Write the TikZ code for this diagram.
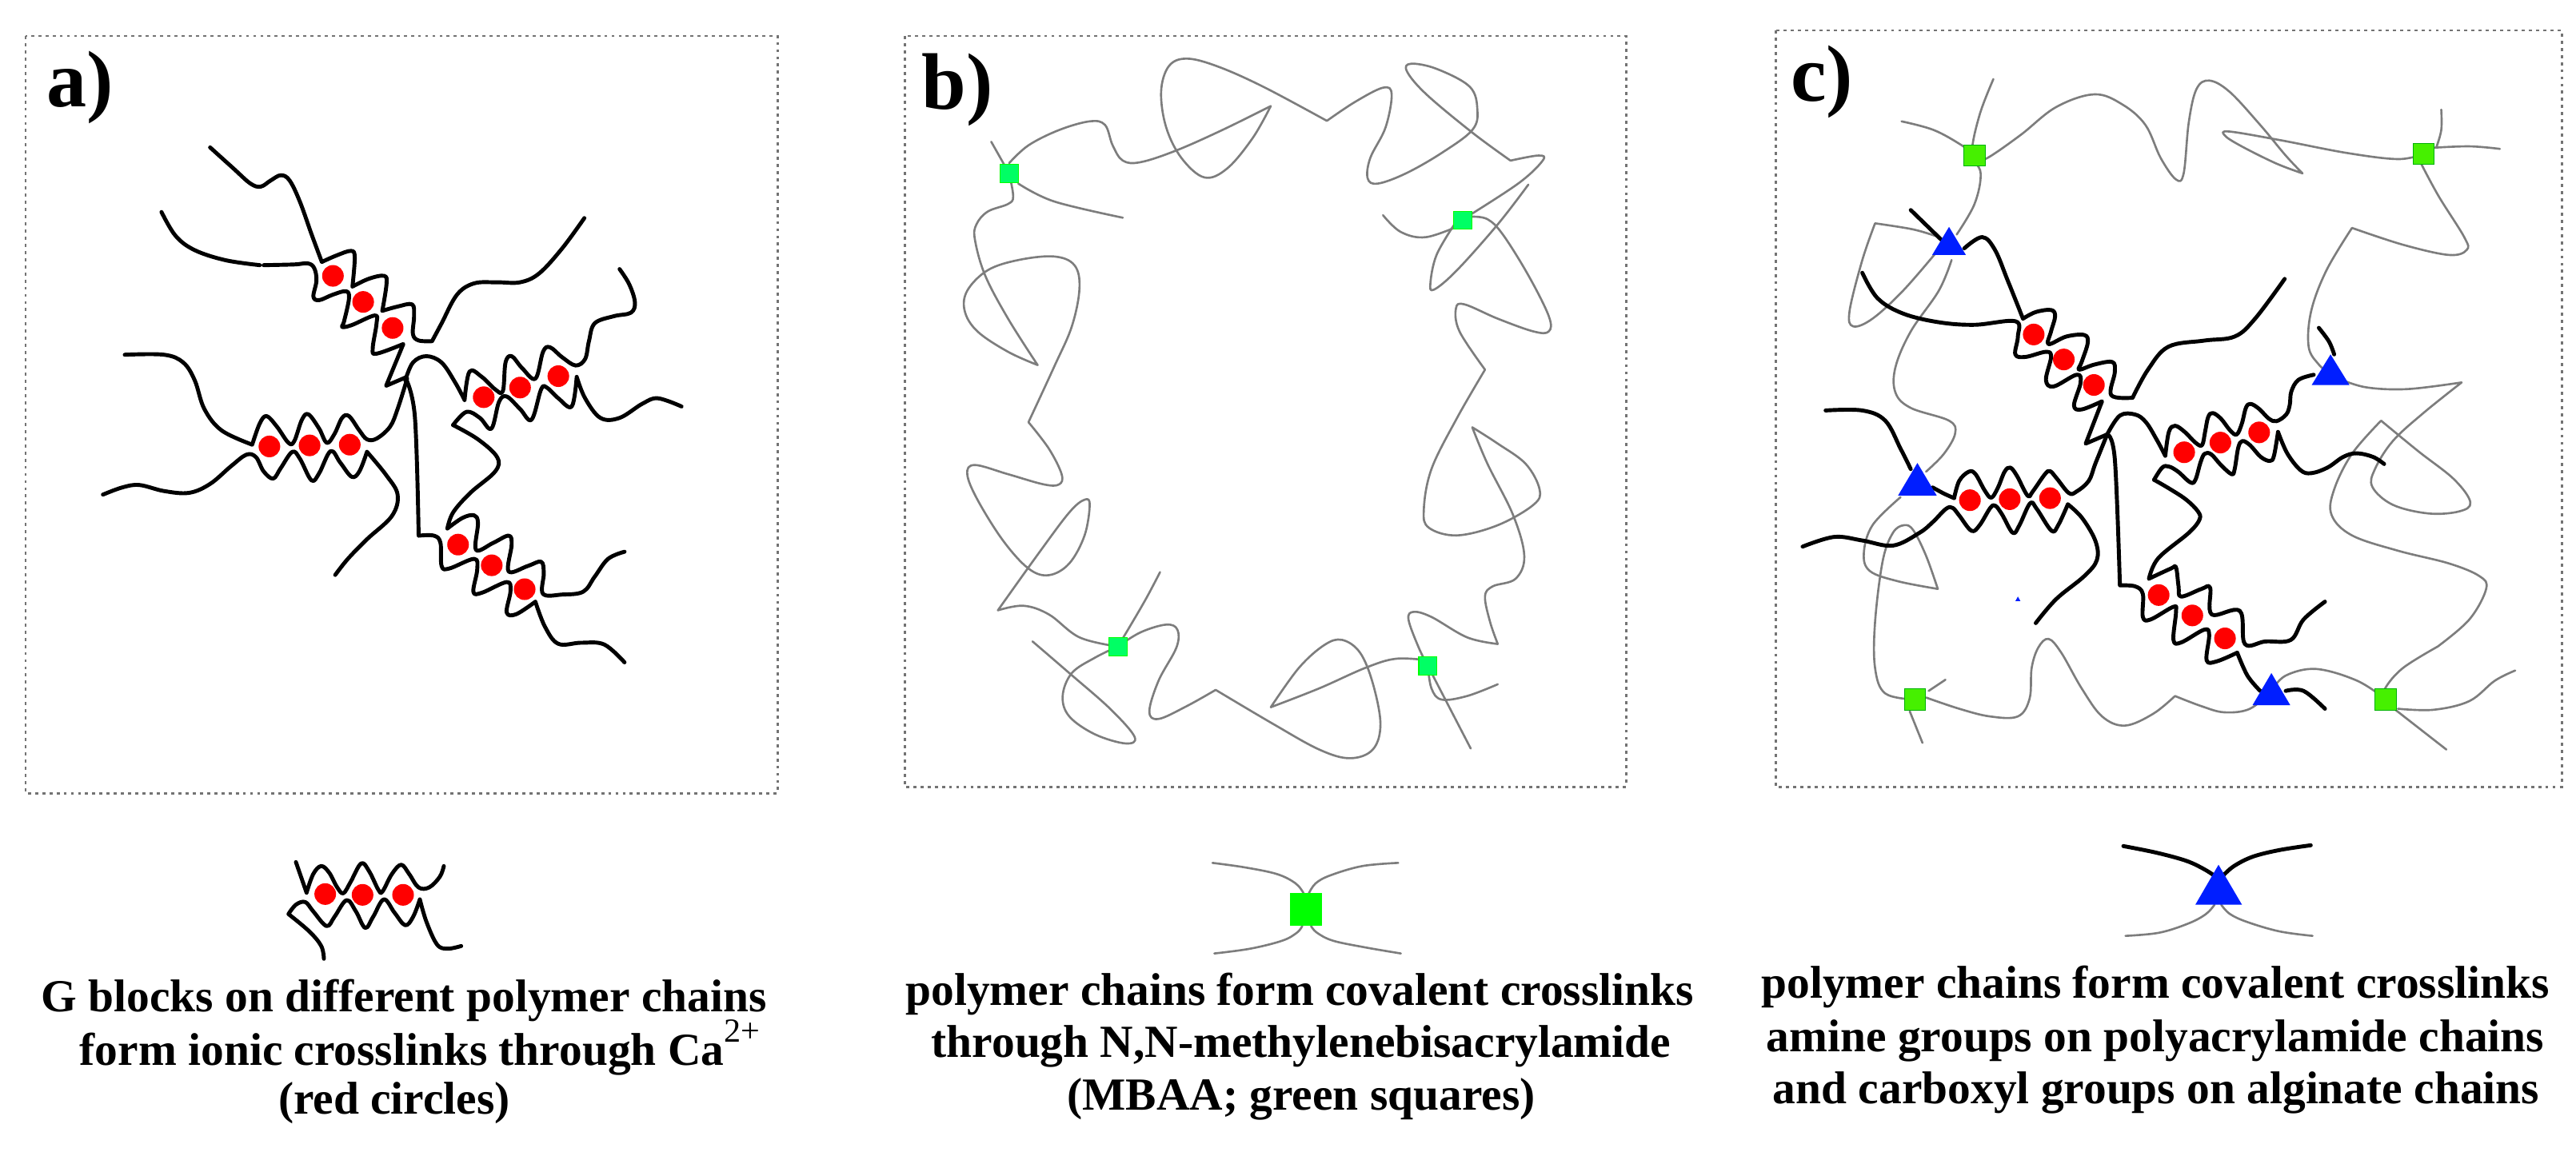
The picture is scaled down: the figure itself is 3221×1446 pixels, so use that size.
\documentclass[tikz,border=0pt]{standalone}
\usepackage{fontspec}
\setmainfont{Liberation Serif}
\definecolor{chaingray}{RGB}{125,125,125}
\definecolor{boxgray}{RGB}{115,115,115}
\definecolor{bsquare}{RGB}{0,255,100}
\definecolor{csquare}{RGB}{70,240,0}
\definecolor{sitered}{RGB}{255,0,0}
\definecolor{siteblue}{RGB}{0,30,255}
\tikzset{
  panelbox/.style={draw=boxgray, line width=1.7pt, dash pattern=on 2.2pt off 2.9pt},
  blackchain/.style={black, line width=2.8pt, line cap=round, line join=round},
  graychain/.style={chaingray, line width=1.5pt, line cap=round, line join=round},
  redsite/.style={circle, fill=sitered, inner sep=0pt, minimum size=15.4pt},
  bsite/.style={rectangle, fill=bsquare, draw=green, line width=.6pt, inner sep=0pt, minimum size=13pt},
  csite/.style={rectangle, fill=csquare, draw=green!70!black, line width=.6pt, inner sep=0pt, minimum size=15pt},
  bluesite/.style={fill=siteblue},
  paneltag/.style={font=\bfseries\fontsize{57}{60}\selectfont, anchor=base west, inner sep=0pt},
  captionline/.style={font=\bfseries\fontsize{32.7}{38}\selectfont, anchor=base, inner sep=0pt},
}
\newcommand{\sm}[1]{plot[smooth, tension=.6] coordinates {#1}}
\begin{document}
\begin{tikzpicture}[x=0.02cm, y=-0.02cm]
  \useasboundingbox (0,0) rectangle (3221,1446);

  % panel frames
  \draw[panelbox] (32,45) rectangle (972,992);
  \draw[panelbox] (1131,45) rectangle (2033,984);
  \draw[panelbox] (2220,38) rectangle (3203,984);
  \node[paneltag] (taga) at (58,134) {a)};
  \node[paneltag] (tagb) at (1152,137) {b)};
  \node[paneltag] (tagc) at (2239,127) {c)};

  % panel a
  \begin{scope}[shift={(100,150)}, xscale=0.4785, yscale=0.4464]
    \draw[blackchain] \sm{(340,77) (400,135) (445,178) (472,187) (498,170) (525,155) (548,170) (575,230) (605,320) (632,398)}
      \sm{(632,398) (670,380) (708,367) (718,385) (712,467)}
      \sm{(712,467) (755,445) (795,437) (801,460) (790,535)}
      \sm{(790,535) (830,523) (868,517) (873,550) (870,600) (885,618) (920,620)}
      \sm{(920,620) (945,570) (985,490) (1030,458) (1090,455) (1150,455) (1200,430) (1260,360) (1318,275)};
    \draw[blackchain] \sm{(213,258) (250,325) (300,365) (380,393) (470,407)}
      \sm{(480,407) (560,405) (595,402) (612,415) (618,450) (610,495) (625,505) (660,490) (695,480) (703,500) (690,565) (685,580) (710,575) (770,548) (775,570) (765,640) (775,655) (845,628)}
      -- (800,745) -- (850,722);
    \draw[blackchain] \sm{(850,722) (875,830) (885,1165)}
      \sm{(885,1165) (925,1165) (942,1185) (945,1250) (965,1257) (1030,1230) (1038,1260) (1028,1322) (1050,1325) (1115,1295) (1125,1320) (1115,1380) (1140,1385) (1190,1350)}
      \sm{(1190,1350) (1215,1420) (1250,1468) (1310,1465) (1370,1470) (1423,1520)};
    \draw[blackchain] \sm{(850,730) (870,680) (905,662) (945,680) (980,735) (1005,785)}
      \sm{(1005,785) (1018,705) (1050,720) (1085,755) (1105,760) (1112,680) (1128,662) (1155,695) (1190,725) (1210,650) (1228,637) (1260,665) (1295,688) (1320,670) (1330,620) (1345,570) (1395,550) (1440,540) (1450,510) (1435,460) (1410,418)};
    \draw[blackchain] \sm{(975,855) (1010,818) (1045,835) (1075,865) (1095,790) (1115,775) (1150,810) (1180,840) (1205,755) (1220,750) (1250,780) (1285,803) (1298,720)}
      \sm{(1298,720) (1320,780) (1360,835) (1410,835) (1470,795) (1510,780) (1572,803)};
    \draw[blackchain] \sm{(975,855) (1040,895) (1090,945) (1085,985) (1020,1045) (975,1100) (960,1145)}
      \sm{(960,1145) (1000,1115) (1030,1108) (1040,1130) (1035,1205) (1080,1185) (1120,1165) (1128,1190) (1120,1265) (1170,1250) (1205,1238) (1212,1270) (1210,1328) (1260,1330) (1315,1322) (1345,1280) (1380,1230) (1423,1210)};
    \draw[blackchain] \sm{(117,658) (220,658) (270,680) (300,730) (325,810) (370,870) (450,910)}
      \sm{(450,910) (470,850) (488,830) (515,860) (545,905) (560,900) (580,840) (597,825) (625,865) (645,905) (665,880) (685,835) (703,830) (730,870) (750,895) (775,893) (810,860) (830,810) (855,725)};
    \draw[blackchain] \sm{(60,1050) (110,1030) (155,1023) (220,1040) (285,1045) (340,1020) (395,970) (435,938) (460,945) (480,985) (505,1005) (525,975) (555,930) (575,950) (605,1010) (625,990) (655,928) (680,960) (710,1000) (730,985) (750,930)}
      \sm{(750,930) (800,995) (830,1050) (815,1110) (750,1175) (700,1230) (667,1275)};
    \node[redsite] (a1) at (661,437) {};
    \node[redsite] (a2) at (740,510) {};
    \node[redsite] (a3) at (817,583) {};
    \node[redsite] (a4) at (495,915) {};
    \node[redsite] (a5) at (600,912) {};
    \node[redsite] (a6) at (705,910) {};
    \node[redsite] (a7) at (1055,777) {};
    \node[redsite] (a8) at (1150,750) {};
    \node[redsite] (a9) at (1250,718) {};
    \node[redsite] (a10) at (988,1190) {};
    \node[redsite] (a11) at (1076,1248) {};
    \node[redsite] (a12) at (1162,1315) {};
  \end{scope}

  % panel b
  \begin{scope}[shift={(1050,0)}, scale=0.6378]
    \draw[graychain] (297,278) -- (332,340);
    \draw[graychain] \sm{(332,340) (340,385) (330,400) (290,415) (268,440) (265,470) (285,540) (330,625) (388,716)}
      \sm{(388,716) (330,690) (270,650) (245,610) (250,570) (290,530) (350,510) (420,503) (460,520) (470,565) (455,640) (420,720) (370,828)}
      \sm{(370,828) (410,880) (435,930) (430,950) (400,950) (330,930) (265,912) (250,930) (270,980) (320,1060) (370,1115) (410,1128) (450,1105) (480,1050) (490,990) (480,980) (450,1005) (390,1085) (310,1197)}
      \sm{(310,1197) (360,1188) (410,1205) (470,1250) (545,1268)};
    \draw[graychain] \sm{(332,320) (370,285) (430,255) (490,238) (520,245) (535,285) (555,315) (590,318) (660,295) (750,255) (845,208)}
      \sm{(845,208) (810,270) (760,330) (715,348) (670,310) (640,250) (630,180) (645,130) (680,115) (740,130) (830,170) (955,237)}
      \sm{(955,237) (1010,200) (1065,172) (1082,185) (1070,250) (1040,310) (1035,350) (1055,360) (1110,340) (1180,300) (1240,255) (1250,215) (1235,170) (1170,135) (1120,125) (1112,140) (1150,185) (1240,260) (1315,315)}
      \sm{(1315,315) (1370,305) (1378,315) (1330,360) (1222,430)};
    \draw[graychain] \sm{(350,360) (420,395) (555,427)};
    \draw[graychain] \sm{(1065,422) (1100,455) (1150,465) (1221,440)};
    \draw[graychain] \sm{(1205,440) (1170,500) (1158,555) (1165,568) (1210,530) (1290,440) (1350,362)};
    \draw[graychain] \sm{(1240,425) (1270,430) (1300,460) (1350,540) (1390,620) (1390,650) (1360,650) (1290,625) (1225,597) (1208,605) (1215,650) (1265,725)}
      \sm{(1265,725) (1210,820) (1160,920) (1145,1000) (1155,1035) (1210,1050) (1290,1030) (1360,990) (1372,960) (1345,910) (1290,870) (1240,838)}
      \sm{(1240,838) (1270,910) (1320,1010) (1342,1090) (1325,1135) (1280,1150) (1265,1170) (1275,1220) (1290,1263)}
      \sm{(1290,1263) (1230,1250) (1160,1210) (1125,1200) (1115,1215) (1135,1270) (1153,1306)};
    \draw[graychain] \sm{(1153,1295) (1090,1292) (1030,1310) (940,1350) (845,1387)}
      \sm{(845,1387) (900,1310) (950,1265) (985,1255) (1020,1280) (1045,1340) (1060,1420) (1045,1470) (1000,1487) (940,1470) (850,1420) (737,1353)}
      \sm{(737,1353) (680,1385) (625,1410) (607,1395) (625,1335) (660,1270) (662,1235) (640,1225) (590,1240) (545,1268)};
    \draw[graychain] \sm{(545,1268) (565,1235) (600,1175) (628,1122)};
    \draw[graychain] \sm{(378,1258) (450,1320) (530,1390) (578,1445) (560,1458) (500,1440) (450,1405) (437,1365) (455,1320) (500,1290) (545,1268)};
    \draw[graychain] \sm{(1153,1306) (1160,1350) (1180,1372) (1230,1365) (1290,1342)};
    \draw[graychain] (1153,1306) -- (1237,1468);
    \node[bsite] (b1) at (332,340) {};
    \node[bsite] (b2) at (1221,432) {};
    \node[bsite] (b3) at (545,1268) {};
    \node[bsite] (b4) at (1153,1306) {};
  \end{scope}

  % panel c
  \begin{scope}[shift={(2150,0)}, scale=0.6378]
    \draw[graychain] \sm{(537,155) (510,225) (495,300) (512,340) (500,400) (465,460)};
    \draw[graychain] \sm{(455,510) (430,570) (375,650) (345,720) (345,770) (375,800) (450,825) (462,850) (440,890) (405,925)};
    \draw[graychain] \sm{(355,975) (300,1030) (283,1085) (295,1120) (350,1140) (428,1155)}
      \sm{(428,1155) (405,1090) (380,1040) (362,1030) (340,1045) (320,1100) (305,1220) (305,1310) (325,1360) (383,1372)};
    \draw[graychain] \sm{(357,238) (420,255) (475,285) (500,305)};
    \draw[graychain] \sm{(500,315) (525,310) (590,265) (660,210) (735,185) (790,205) (835,245) (865,310) (895,352) (910,340) (920,240) (935,175) (960,158) (1000,180) (1060,245) (1110,305) (1143,340)}
      \sm{(1143,340) (1090,320) (1020,285) (990,265) (1000,258) (1100,275) (1230,300) (1330,312) (1380,302)};
    \draw[graychain] \sm{(1415,215) (1415,255) (1405,290)};
    \draw[graychain] \sm{(1395,290) (1470,287) (1530,292)};
    \draw[graychain] \sm{(1375,320) (1410,385) (1460,465) (1465,490) (1430,500) (1340,480) (1240,447)}
      \sm{(1240,447) (1190,530) (1160,610) (1155,680) (1175,715) (1198,735)};
    \draw[graychain] \sm{(1220,745) (1270,760) (1350,763) (1455,750)}
      \sm{(1455,750) (1380,810) (1320,865) (1285,920) (1280,955) (1320,990) (1390,1007) (1450,1003) (1472,985) (1440,940) (1370,885) (1297,825)}
      \sm{(1297,825) (1240,890) (1205,960) (1200,1010) (1240,1050) (1330,1080) (1430,1105) (1490,1130) (1503,1155) (1470,1215) (1408,1268)}
      \sm{(1408,1268) (1340,1310) (1305,1350) (1305,1372)};
    \draw[graychain] \sm{(1307,1372) (1250,1335) (1170,1312) (1110,1325) (1082,1355)};
    \draw[graychain] \sm{(1330,1390) (1400,1392) (1470,1375) (1520,1335) (1560,1315)};
    \draw[graychain] (1325,1392) -- (1425,1470);
    \draw[graychain] \sm{(1082,1355) (1040,1390) (990,1397) (945,1385) (893,1365)}
      \sm{(893,1365) (850,1400) (795,1423) (750,1405) (710,1350) (670,1280) (645,1253) (625,1270) (612,1310) (608,1370) (585,1405) (530,1405) (470,1390) (405,1368)};
    \draw[graychain] (443,1333) -- (410,1355);
    \draw[graychain] (373,1395) -- (398,1457);
    \draw[graychain] \sm{(430,465) (380,450) (305,438)}
      \sm{(305,438) (280,510) (255,610) (262,640) (300,625) (360,570) (425,495)};

    \draw[blackchain] (375,412) -- (445,480);
    \draw[blackchain] \sm{(480,487) (515,465) (540,490) (565,550) (595,625)}
      \sm{(595,625) (620,612) (650,608) (658,620) (650,650) (645,675) (680,660) (715,657) (722,672) (710,710) (705,725) (735,715) (770,710) (775,730) (768,775) (810,780)}
      \sm{(810,780) (840,725) (880,680) (950,668) (1010,660) (1050,625) (1108,547)};
    \draw[blackchain] \sm{(280,535) (310,585) (360,615) (430,632) (500,637) (580,630) (585,660) (580,695) (600,700) (640,690) (650,700) (640,745) (655,758) (700,735) (708,750) (695,795) (710,803) (750,787)}
      -- (718,870) -- (760,852);
    \draw[blackchain] \sm{(760,852) (775,900) (785,1148)}
      \sm{(785,1148) (815,1150) (830,1165) (830,1210) (845,1215) (890,1190) (895,1200) (890,1255) (905,1260) (950,1235) (960,1245) (955,1295) (975,1297) (1015,1280)}
      \sm{(1015,1280) (1035,1325) (1060,1355)};
    \draw[blackchain] \sm{(760,852) (785,815) (815,813) (836,828) (857,862) (874,894)}
      \sm{(874,894) (881,847) (893,835) (912,847) (933,868) (946,873) (952,847) (958,818) (967,810) (983,821) (1001,844) (1014,852) (1024,831) (1032,800) (1041,792) (1058,802) (1077,821) (1092,826) (1111,813) (1118,794) (1121,768) (1135,745) (1165,735)};
    \draw[blackchain] \sm{(1175,643) (1195,670) (1205,695)};
    \draw[blackchain] \sm{(852,941) (868,917) (881,915) (899,925) (923,946) (933,941) (943,907) (951,890) (964,891) (983,912) (1004,930) (1010,920) (1017,878) (1025,865) (1040,873) (1061,896) (1079,904) (1087,894) (1095,847)}
      \sm{(1095,847) (1113,889) (1139,922) (1160,928) (1192,917) (1223,896) (1249,889) (1281,896) (1303,910)};
    \draw[blackchain] \sm{(852,941) (883,959) (915,980) (938,1003) (941,1019) (920,1045) (860,1095) (842,1135)}
      \sm{(842,1135) (885,1115) (895,1113) (900,1150) (905,1170) (945,1155) (962,1153) (965,1205) (1020,1198) (1030,1263) (1070,1258) (1120,1255) (1145,1215) (1187,1180)};
    \draw[blackchain] \sm{(1110,1355) (1145,1355) (1187,1390)};
    \draw[blackchain] \sm{(208,805) (280,805) (325,825) (355,880) (375,920)};
    \draw[blackchain] \sm{(418,956) (440,968) (460,977)}
      \sm{(460,977) (470,943) (489,925) (502,930) (520,962) (533,976) (546,956) (559,925) (570,917) (583,933) (604,972) (614,964) (638,930) (648,924) (661,938) (685,967) (700,964) (724,943) (737,909) (760,852)};
    \draw[blackchain] \sm{(163,1072) (225,1053) (280,1060) (340,1070) (392,1045) (418,1024) (444,998) (457,996) (470,1011) (494,1041) (510,1030) (531,996) (541,992) (554,1009) (575,1045) (588,1030) (609,987) (622,998) (651,1041) (664,1030) (683,989)}
      \sm{(683,989) (711,1016) (737,1061) (740,1098) (715,1130) (660,1175) (620,1222)};

    \node[redsite] (c1) at (616,656) {};
    \node[redsite] (c2) at (675,705) {};
    \node[redsite] (c3) at (734,755) {};
    \node[redsite] (c4) at (491,981) {};
    \node[redsite] (c5) at (569,979) {};
    \node[redsite] (c6) at (648,977) {};
    \node[redsite] (c7) at (911,887) {};
    \node[redsite] (c8) at (982,868) {};
    \node[redsite] (c9) at (1058,848) {};
    \node[redsite] (c10) at (861,1167) {};
    \node[redsite] (c11) at (927,1207) {};
    \node[redsite] (c12) at (991,1252) {};
    \node[csite] (s1) at (500,305) {};
    \node[csite] (s2) at (1380,302) {};
    \node[csite] (s3) at (383,1372) {};
    \node[csite] (s4) at (1306,1372) {};
    \fill[bluesite] (417,500) -- (450,445) -- (483,500) -- cycle;
    \fill[bluesite] (350,972) -- (388,908) -- (426,972) -- cycle;
    \fill[bluesite] (1161,755) -- (1198,695) -- (1235,755) -- cycle;
    \fill[bluesite] (1045,1383) -- (1082,1320) -- (1119,1383) -- cycle;
    \fill[bluesite] (580,1179) -- (585,1170) -- (590,1179) -- cycle;
  \end{scope}

  % legend a
  \begin{scope}[shift={(330,1040)}, scale=0.3333]
    \draw[blackchain] \sm{(120,115) (160,230)}
      \sm{(160,230) (185,160) (215,130) (245,155) (275,210) (298,232) (325,190) (365,120) (395,150) (430,220) (445,225) (480,160) (515,125) (545,160) (580,210) (620,210) (660,170) (675,130)};
    \draw[blackchain] \sm{(225,478) (215,430) (170,375) (92,310)}
      \sm{(92,310) (120,275) (155,265) (185,300) (235,355) (265,320) (310,258) (345,300) (380,362) (410,320) (450,255) (490,305) (530,352) (560,320) (585,255)}
      \sm{(585,255) (610,340) (650,425) (690,440) (740,430)};
    \node[redsite] (la1) at (230,235) {};
    \node[redsite] (la2) at (370,238) {};
    \node[redsite] (la3) at (522,238) {};
  \end{scope}

  % legend b
  \begin{scope}[shift={(1490,1040)}, scale=0.3333]
    \draw[graychain] \sm{(78,118) (200,135) (320,160) (390,195) (420,232)};
    \draw[graychain] \sm{(775,118) (640,130) (520,165) (465,195) (440,232)};
    \draw[graychain] \sm{(85,458) (220,440) (340,410) (395,380) (415,355)};
    \draw[graychain] \sm{(785,458) (650,435) (530,410) (470,380) (448,355)};
    \node[rectangle, fill=green, inner sep=0pt, minimum size=23.3pt] (lb) at (429,293) {};
  \end{scope}

  % legend c
  \begin{scope}[shift={(2620,1040)}, scale=0.3333]
    \draw[blackchain] \sm{(105,55) (230,80) (340,110) (405,140) (445,165)};
    \draw[blackchain] \sm{(808,52) (690,70) (590,95) (520,130) (480,165)};
    \draw[graychain] \sm{(113,392) (240,380) (350,345) (415,310) (447,275)};
    \draw[graychain] \sm{(815,392) (690,375) (570,340) (505,310) (472,275)};
    \fill[bluesite] (375,275) -- (462,125) -- (550,275) -- cycle;
  \end{scope}

  % captions
  \node[captionline] (capa1) at (505,1265) {G blocks on different polymer chains};
  \node[captionline] (capa2) at (525,1332) {form ionic crosslinks through Ca\raisebox{16.5pt}[0pt][0pt]{\mdseries\fontsize{24}{24}\selectfont 2+}};
  \node[captionline] (capa3) at (493,1393) {(red circles)};
  \node[captionline] (capb1) at (1625,1257) {polymer chains form covalent crosslinks};
  \node[captionline] (capb2) at (1627,1322) {through N,N-methylenebisacrylamide};
  \node[captionline] (capb3) at (1627,1388) {(MBAA; green squares)};
  \node[captionline] (capc1) at (2695,1248) {polymer chains form covalent crosslinks};
  \node[captionline] (capc2) at (2695,1315) {amine groups on polyacrylamide chains};
  \node[captionline] (capc3) at (2696,1380) {and carboxyl groups on alginate chains};
\end{tikzpicture}
\end{document}
